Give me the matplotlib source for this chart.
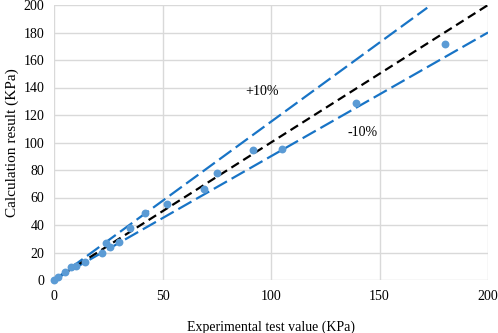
import numpy as np
import matplotlib.pyplot as plt

plt.rcParams['font.family'] = ['Liberation Serif', 'DejaVu Serif']

# measured points (experimental vs calculated)
exp_vals = [0, 2, 5, 7.7, 10, 14.3, 22.3, 24, 26, 30, 35, 42, 52, 69, 75, 91.8, 105, 139, 180]
calc_vals = [0, 2, 6, 9.5, 10, 13, 19.4, 26.7, 24, 28, 38, 49, 55, 66, 78, 94.3, 95, 129, 172]

# reference lines
ref_x = [0, 200]
ref_y = [0, 200]
upper_x = [0, 172]
upper_y = [0, 198]
lower_x = [0, 200]
lower_y = [0, 180]

fig = plt.figure(figsize=(4.98, 3.33), dpi=100)
ax = fig.add_axes([54/498, 1 - 280/333, 434/498, 275/333])

grid_c = '#d9d9d9'
for v in range(0, 201, 50):
    ax.axvline(v, color=grid_c, lw=1, zorder=0)
for v in range(0, 201, 20):
    ax.axhline(v, color=grid_c, lw=1, zorder=0)

ax.plot(upper_x, upper_y, color='#1874c6', lw=1.6, dashes=(6.8, 2.4), zorder=2)
ax.plot(lower_x, lower_y, color='#1874c6', lw=1.6, dashes=(6.8, 2.4), zorder=2)
ax.plot(ref_x, ref_y, color='black', lw=1.6, dashes=(4, 2.3), zorder=3)
ax.scatter(exp_vals, calc_vals, s=32, color='#5b9bd5', zorder=4, linewidths=0, clip_on=False)

ax.text(96, 137, '+10%', fontsize=10, ha='center', va='center')
ax.text(142, 107, '-10%', fontsize=10, ha='center', va='center')

ax.set_xlim(0, 200)
ax.set_ylim(0, 200)
ax.set_xticks(range(0, 201, 50))
ax.set_yticks(range(0, 201, 20))
for s in ax.spines.values():
    s.set_visible(False)
ax.tick_params(length=0, labelsize=10, pad=7)
ax.set_xlabel('Experimental test value (KPa)', fontsize=10, labelpad=13)
ax.set_ylabel('Calculation result (KPa)', fontsize=11, labelpad=3)

fig.savefig('out.png', dpi=100)
